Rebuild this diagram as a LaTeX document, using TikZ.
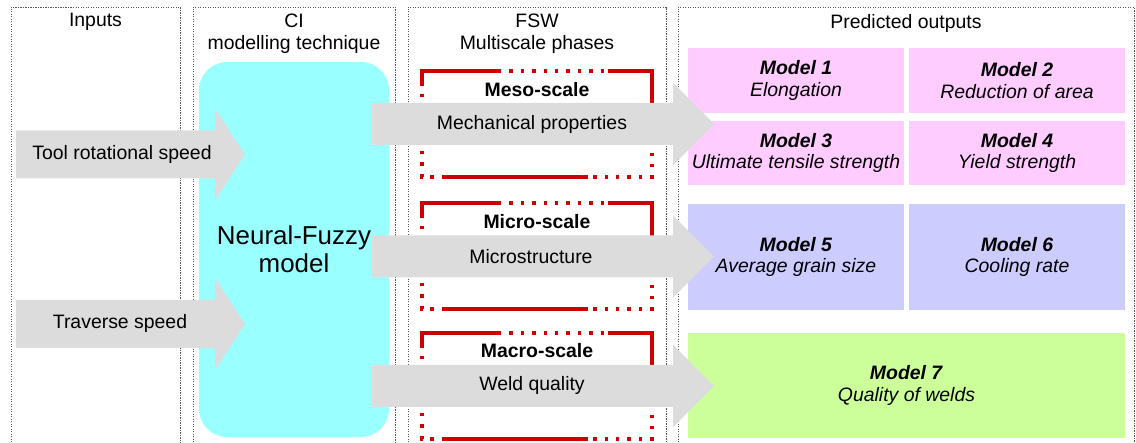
\documentclass[tikz,border=0pt]{standalone}
\usepackage{fontspec}
\setmainfont{Liberation Sans}
\definecolor{arrowgray}{HTML}{DCDCDC}
\definecolor{cyanbox}{HTML}{99FFFF}
\definecolor{pinkbox}{HTML}{FFCCFF}
\definecolor{bluebox}{HTML}{CCCCFF}
\definecolor{greenbox}{HTML}{CCFF99}
\definecolor{redline}{HTML}{CC0000}
\definecolor{coldot}{HTML}{555555}
\newcommand\phasebox[1]{%
  \draw[redsolid] (422,{#1+14}) -- (422,#1) -- (498,#1);
  \draw[reddot] (498,#1) -- (608,#1);
  \draw[redsolid] (608,#1) -- (652,#1) -- (652,{#1+36});
  \draw[reddot] (652,{#1+36}) -- (652,{#1+106}) -- (588,{#1+106});
  \draw[redsolid] (588,{#1+106}) -- (445,{#1+106});
  \draw[reddot] (445,{#1+106}) -- (422,{#1+106}) -- (422,{#1+14});
}
\newcommand\bigarrowat[1]{%
  \fill[arrowgray] (372,{#1-21}) -- (673,{#1-21}) -- (673,{#1-41}) -- (714,#1)
    -- (673,{#1+41}) -- (673,{#1+21}) -- (372,{#1+21}) -- cycle;
}
\newcommand\inarrowat[1]{%
  \fill[arrowgray] (16,{#1-24}) -- (215,{#1-24}) -- (215,{#1-46}) -- (245,#1)
    -- (215,{#1+46}) -- (215,{#1+24}) -- (16,{#1+24}) -- cycle;
}
\tikzset{
  colbox/.style={draw=coldot, line width=0.8bp, dash pattern=on 1.2bp off 1.3bp},
  redsolid/.style={draw=redline, line width=3.4bp},
  reddot/.style={draw=redline, line width=3.4bp, dash pattern=on 3.4bp off 8bp},
  txt/.style={font=\fontsize{19.5}{22.5}\selectfont, align=center, inner sep=0pt},
  bigtxt/.style={font=\fontsize{26}{28}\selectfont, align=center, inner sep=0pt},
  modelbox/.style={inner sep=0pt, align=center, font=\fontsize{19.5}{21.5}\selectfont},
}
\begin{document}
\begin{tikzpicture}[x=1bp,y=-1bp]
\useasboundingbox (0,0) rectangle (1136,443);
% column frames
\draw[colbox] (11,470) -- (11,7) -- (180,7) -- (180,470);
\draw[colbox] (193,470) -- (193,7) -- (395,7) -- (395,470);
\draw[colbox] (408,470) -- (408,7) -- (666,7) -- (666,470);
\draw[colbox] (678,470) -- (678,7) -- (1134,7) -- (1134,470);
% headers
\node[txt] (hin) at (95.5,22) {Inputs};
\node[txt] (hci) at (294,33.5) {CI\\modelling technique};
\node[txt] (hfsw) at (537,33.5) {FSW\\Multiscale phases};
\node[txt] (hout) at (906,23) {Predicted outputs};
% neural-fuzzy box
\node[bigtxt, fill=cyanbox, rounded corners=28bp, minimum width=190bp, minimum height=375bp] (nf) at (294,249.5) {Neural-Fuzzy\\model};
% phase boxes
\phasebox{71}
\phasebox{203}
\phasebox{333}
\node[txt, font=\fontsize{19.5}{22.5}\selectfont\bfseries] (meso) at (537,90) {Meso-scale};
\node[txt, font=\fontsize{19.5}{22.5}\selectfont\bfseries] (micro) at (537,222) {Micro-scale};
\node[txt, font=\fontsize{19.5}{22.5}\selectfont\bfseries] (macro) at (537,351) {Macro-scale};
% input arrows
\inarrowat{154.5}
\inarrowat{324}
\node[txt] (tool) at (122,154.5) {Tool rotational speed};
\node[txt] (trav) at (120,323.5) {Traverse speed};
% model boxes
\node[modelbox, fill=pinkbox, minimum width=216bp, minimum height=65bp] (m1) at (796,80.5) {\textbf{\textit{Model 1}}\\\textit{Elongation}};
\node[modelbox, fill=pinkbox, minimum width=216bp, minimum height=65bp] (m2) at (1017,80.5) {\textbf{\textit{Model 2}}\\\textit{Reduction of area}};
\node[modelbox, fill=pinkbox, minimum width=216bp, minimum height=64bp] (m3) at (796,153) {\textbf{\textit{Model 3}}\\\textit{Ultimate tensile strength}};
\node[modelbox, fill=pinkbox, minimum width=216bp, minimum height=64bp] (m4) at (1017,153) {\textbf{\textit{Model 4}}\\\textit{Yield strength}};
\node[modelbox, fill=bluebox, minimum width=216bp, minimum height=106bp] (m5) at (796,257) {\textbf{\textit{Model 5}}\\\textit{Average grain size}};
\node[modelbox, fill=bluebox, minimum width=216bp, minimum height=106bp] (m6) at (1017,257) {\textbf{\textit{Model 6}}\\\textit{Cooling rate}};
\node[modelbox, fill=greenbox, minimum width=437bp, minimum height=105bp] (m7) at (906.5,385.5) {\textbf{\textit{Model 7}}\\\textit{Quality of welds}};
% big arrows
\bigarrowat{124}
\bigarrowat{256.5}
\bigarrowat{386}
\node[txt] (mech) at (532,124) {Mechanical properties};
\node[txt] (mstr) at (531,256.5) {Microstructure};
\node[txt] (weld) at (532,385) {Weld quality};
\end{tikzpicture}
\end{document}
